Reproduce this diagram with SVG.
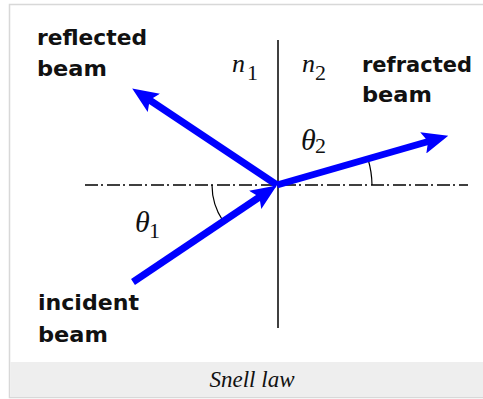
<svg xmlns="http://www.w3.org/2000/svg" width="483" height="399" viewBox="0 0 483 399">
<style>
.lbl{font-family:"DejaVu Sans","Liberation Sans",sans-serif;font-weight:bold;font-size:22px;fill:#111}
.mi{font-family:"Liberation Serif","Times New Roman",serif;font-style:italic;fill:#111}
.sub{font-family:"Liberation Serif","Times New Roman",serif;fill:#111}
.beam{stroke:#0000ff;stroke-width:7;fill:none;marker-end:url(#ah)}
.axis{stroke:#000;stroke-width:1.5;fill:none}
.arc{stroke:#000;stroke-width:1.2;fill:none}
</style>
<defs>
<marker id="ah" viewBox="0 0 26 22" refX="7" refY="11" markerWidth="26" markerHeight="22" markerUnits="userSpaceOnUse" orient="auto">
<path d="M0,0 L26,11 L0,22 L5,11 Z" fill="#0000ff"/>
</marker>
</defs>
<rect x="0" y="0" width="483" height="399" fill="#fff"/>
<rect id="frame" x="9.5" y="4.5" width="480" height="393" fill="#fff" stroke="#d8d8d8" stroke-width="1.5"/>
<rect id="caption-band" x="10.25" y="362" width="473" height="35" fill="#eeeeee"/>

<g id="connectors">
<line id="interface" class="axis" x1="278" y1="40" x2="278" y2="328"/>
<line id="normal" class="axis" x1="85" y1="185" x2="468" y2="185" stroke-dasharray="13 3 2 4"/>
<path id="arc1" class="arc" d="M212,185 A65,65 0 0 0 223,221"/>
<path id="arc2" class="arc" d="M372,185 A95,95 0 0 0 368,159"/>
<line id="incident" class="beam" x1="133" y1="282" x2="261" y2="196"/>
<line id="reflected" class="beam" x1="277" y1="185" x2="148" y2="99"/>
<line id="refracted" class="beam" x1="277" y1="185" x2="430" y2="141"/>
</g>

<g id="reflected-label">
<text class="lbl" x="37" y="45" textLength="110" lengthAdjust="spacingAndGlyphs">reflected</text>
<text class="lbl" x="37" y="76" textLength="70" lengthAdjust="spacingAndGlyphs">beam</text>
</g>
<g id="refracted-label">
<text class="lbl" x="362" y="72" textLength="110" lengthAdjust="spacingAndGlyphs">refracted</text>
<text class="lbl" x="362" y="102" textLength="70" lengthAdjust="spacingAndGlyphs">beam</text>
</g>
<g id="incident-label">
<text class="lbl" x="38" y="310" textLength="101" lengthAdjust="spacingAndGlyphs">incident</text>
<text class="lbl" x="38" y="342" textLength="70" lengthAdjust="spacingAndGlyphs">beam</text>
</g>
<g id="n1">
<text class="mi" x="232" y="72" font-size="26">n</text>
<text class="sub" x="247" y="80" font-size="22">1</text>
</g>
<g id="n2">
<text class="mi" x="302" y="72" font-size="26">n</text>
<text class="sub" x="315" y="80" font-size="22">2</text>
</g>
<g id="theta1">
<text class="mi" x="135" y="232" font-size="30">θ</text>
<text class="sub" x="149" y="238" font-size="22">1</text>
</g>
<g id="theta2">
<text class="mi" x="301" y="150" font-size="30">θ</text>
<text class="sub" x="315" y="153" font-size="22">2</text>
</g>
<g id="caption">
<text x="252" y="387" text-anchor="middle" font-family="Liberation Serif, Times New Roman, serif" font-style="italic" font-size="23" fill="#111">Snell law</text>
</g>
</svg>
